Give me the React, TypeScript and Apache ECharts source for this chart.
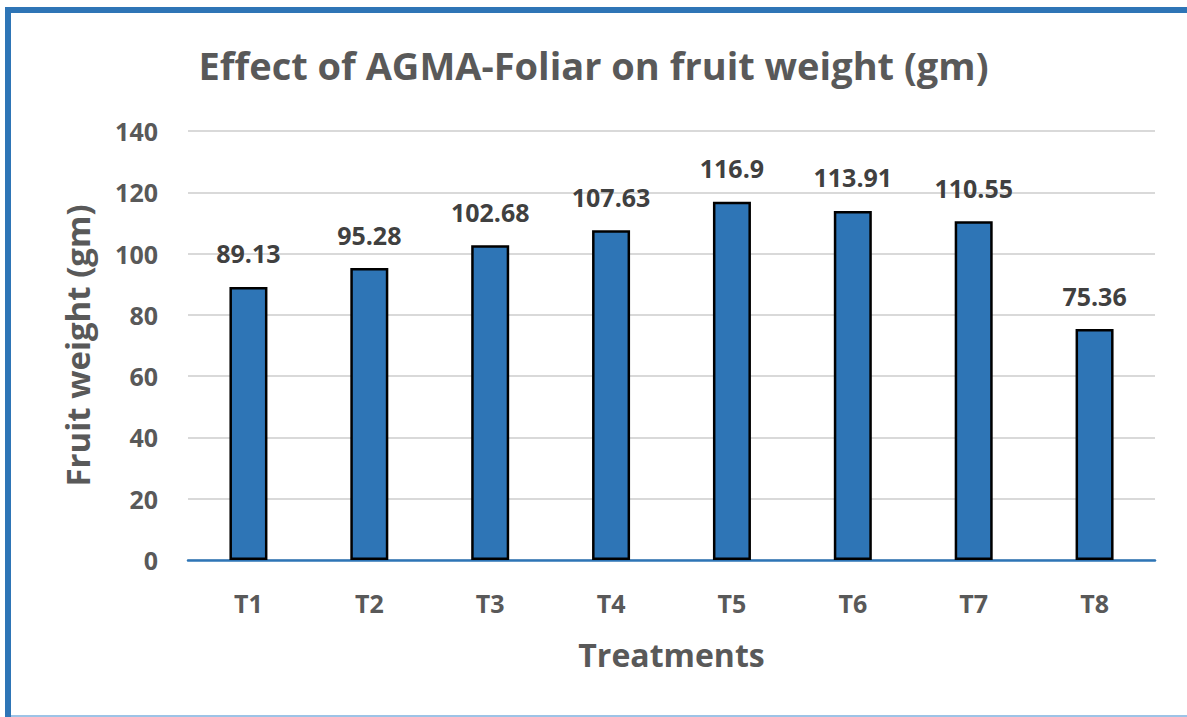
import React, { useEffect, useRef } from "react";
import * as echarts from "echarts";

const categories = ["T1", "T2", "T3", "T4", "T5", "T6", "T7", "T8"];
const fruitWeight = [89.13, 95.28, 102.68, 107.63, 116.9, 113.91, 110.55, 75.36];
const yTicks = { min: 0, max: 140, interval: 20 };

const FONT = "'Open Sans', 'Noto Sans', sans-serif";

export default function App() {
  const ref = useRef<HTMLDivElement>(null);
  useEffect(() => {
    if (!ref.current) return;
    const chart = echarts.init(ref.current, undefined, { renderer: "svg" });
    chart.setOption({
      animation: false,
      backgroundColor: "#ffffff",
      title: {
        text: "Effect of AGMA-Foliar on fruit weight (gm)",
        left: "center",
        top: 41,
        textStyle: { fontFamily: FONT, fontSize: 38, fontWeight: "bold", color: "#595959" },
      },
      grid: { left: 188, right: 32, top: 131, bottom: 157 },
      xAxis: {
        type: "category",
        data: categories,
        name: "Treatments",
        nameLocation: "middle",
        nameGap: 78,
        nameTextStyle: { fontFamily: FONT, fontSize: 32, fontWeight: "bold", color: "#595959" },
        axisLine: { lineStyle: { color: "#2E75B6", width: 2.5 } },
        axisTick: { show: false },
        axisLabel: { fontFamily: FONT, fontSize: 25, fontWeight: "bold", color: "#595959", margin: 30 },
      },
      yAxis: {
        type: "value",
        min: yTicks.min,
        max: yTicks.max,
        interval: yTicks.interval,
        name: "Fruit weight (gm)",
        nameLocation: "middle",
        nameGap: 94,
        nameTextStyle: { fontFamily: FONT, fontSize: 33, fontWeight: "bold", color: "#595959" },
        axisLine: { show: false },
        axisTick: { show: false },
        axisLabel: { fontFamily: FONT, fontSize: 25, fontWeight: "bold", color: "#595959", margin: 30 },
        splitLine: { lineStyle: { color: "#D9D9D9", width: 2 } },
      },
      series: [
        {
          type: "bar",
          data: fruitWeight,
          barWidth: 38,
          itemStyle: { color: "#2E75B6", borderColor: "#000000", borderWidth: 2.5 },
          label: {
            show: true,
            position: "top",
            distance: 21,
            fontFamily: FONT,
            fontSize: 25,
            fontWeight: "bold",
            color: "#404040",
          },
        },
      ],
      graphic: [
        { type: "rect", shape: { x: 5, y: 7, width: 1300, height: 6 }, style: { fill: "#2E75B6" }, silent: true },
        { type: "rect", shape: { x: 5, y: 7, width: 6, height: 720 }, style: { fill: "#2E75B6" }, silent: true },
        { type: "rect", shape: { x: 11, y: 715, width: 1200, height: 2 }, style: { fill: "#9DC3E6" }, silent: true },
      ],
    });
    return () => chart.dispose();
  }, []);
  return (
    <div
      ref={ref}
      style={{ position: "fixed", left: 0, top: 0, width: 1187, height: 717 }}
    />
  );
}
